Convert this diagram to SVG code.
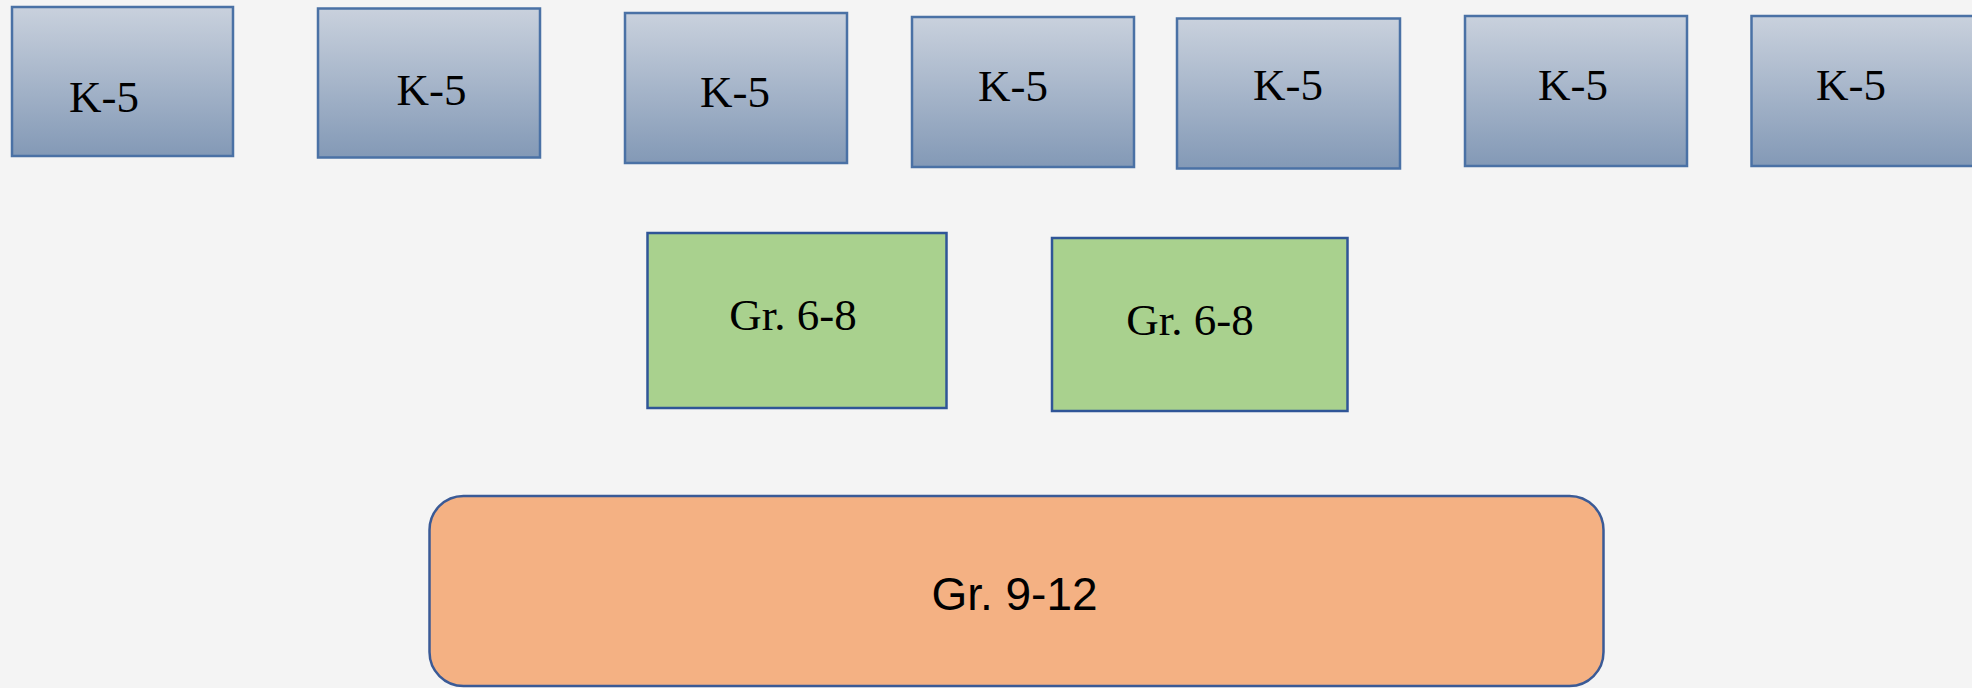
<svg xmlns="http://www.w3.org/2000/svg" width="1972" height="688" viewBox="0 0 1972 688">
  <defs>
    <linearGradient id="blueGrad" x1="0" y1="0" x2="0" y2="1">
      <stop offset="0" stop-color="#c9d1dd"/>
      <stop offset="1" stop-color="#8399b6"/>
    </linearGradient>
    <style>
      .k5 { fill: url(#blueGrad); stroke: #4a71a5; stroke-width: 2.5; }
      .g68 { fill: #a9d18e; stroke: #2f5597; stroke-width: 2.5; }
      .g912 { fill: #f4b183; stroke: #3a5a96; stroke-width: 2.5; }
      .serif { font-family: "Liberation Serif", "Times New Roman", serif; font-size: 45px; fill: #000; text-anchor: middle; }
      .sans { font-family: "Liberation Sans", Arial, sans-serif; font-size: 46px; fill: #000; text-anchor: middle; }
    </style>
  </defs>
  <rect x="0" y="0" width="1972" height="688" fill="#f4f4f4"/>

  <g id="connectors"></g>

  <g id="k5-1"><rect class="k5" x="12" y="7" width="221" height="149"/><text class="serif" x="104" y="112">K-5</text></g>
  <g id="k5-2"><rect class="k5" x="318" y="8.5" width="222" height="149"/><text class="serif" x="431.5" y="105">K-5</text></g>
  <g id="k5-3"><rect class="k5" x="625" y="13" width="222" height="150"/><text class="serif" x="735" y="107">K-5</text></g>
  <g id="k5-4"><rect class="k5" x="912" y="17" width="222" height="150"/><text class="serif" x="1013" y="101">K-5</text></g>
  <g id="k5-5"><rect class="k5" x="1177" y="18.5" width="223" height="150"/><text class="serif" x="1288" y="100">K-5</text></g>
  <g id="k5-6"><rect class="k5" x="1465" y="16" width="222" height="150"/><text class="serif" x="1573" y="99.5">K-5</text></g>
  <g id="k5-7"><rect class="k5" x="1751.5" y="16" width="230" height="150"/><text class="serif" x="1851" y="99.5">K-5</text></g>

  <g id="gr68-1"><rect class="g68" x="647.5" y="233" width="299" height="175"/><text class="serif" x="793" y="330">Gr. 6-8</text></g>
  <g id="gr68-2"><rect class="g68" x="1052" y="238" width="295.5" height="173"/><text class="serif" x="1190" y="335">Gr. 6-8</text></g>

  <g id="gr912"><rect class="g912" x="429.5" y="496" width="1174" height="190" rx="34" ry="34"/><text class="sans" x="1014.5" y="610">Gr. 9-12</text></g>
</svg>
